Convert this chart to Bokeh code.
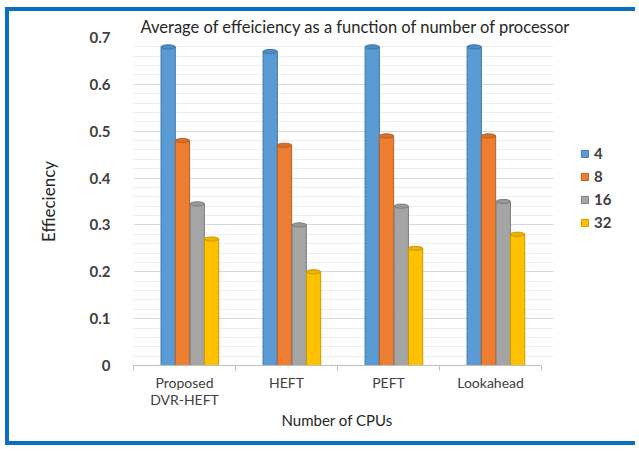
from bokeh.plotting import figure
from bokeh.models import ColumnDataSource, FixedTicker, Legend, LegendItem, Range1d, Title
from bokeh.embed import file_html
from bokeh.resources import INLINE

# ---- data ----
algorithms = ["Proposed\nDVR-HEFT", "HEFT", "PEFT", "Lookahead"]
series_names = ["4", "8", "16", "32"]
eff_4 = [0.68, 0.67, 0.68, 0.68]
eff_8 = [0.48, 0.47, 0.49, 0.49]
eff_16 = [0.345, 0.30, 0.34, 0.35]
eff_32 = [0.27, 0.20, 0.25, 0.28]
y_ticks = [0, 0.1, 0.2, 0.3, 0.4, 0.5, 0.6, 0.7]
y_tick_labels = ["0", "0.1", "0.2", "0.3", "0.4", "0.5", "0.6", "0.7"]

# ---- style ----
colors = ["#5B9BD5", "#ED7D31", "#A5A5A5", "#FFC000"]
edges = ["#3F77AA", "#B85F22", "#7E7E7E", "#C99A00"]
caps = ["#4F8CC4", "#DA6F27", "#989898", "#EDB200"]
offsets = [-0.16, -0.02, 0.125, 0.265]
bar_w = 0.14
FONT = "Lato"
N = len(algorithms)
X_END = 4.96      # frame runs to the right edge; legend lives inside it
GRID_END = 4.12

centers = [i + 0.5 for i in range(N)]
values = [eff_4, eff_8, eff_16, eff_32]

p = figure(width=630, height=438, x_range=Range1d(0, X_END),
           y_range=Range1d(0, 0.7), output_backend="svg", toolbar_location=None,
           min_border_left=124, min_border_right=0, min_border_top=26,
           min_border_bottom=84)
p.styles = {"margin-left": "5px", "margin-top": "7px",
            "border-left": "4px solid #0A6FC4", "border-top": "4px solid #0A6FC4",
            "border-bottom": "4px solid #0A6FC4", "border-right": "0px none"}
p.outline_line_color = None
p.background_fill_color = "white"
p.border_fill_color = "white"

# grid
minor = [round(i * 0.02, 3) for i in range(36) if i % 5 != 0]
p.yaxis.ticker = FixedTicker(ticks=y_ticks, minor_ticks=minor)
p.ygrid.grid_line_color = "#D9D9D9"
p.ygrid.minor_grid_line_color = "#EEEEEE"
p.ygrid.cross_bounds = (0, GRID_END)
p.xgrid.grid_line_color = None

items = []
for k, name in enumerate(series_names):
    xs = [c + offsets[k] for c in centers]
    src = ColumnDataSource(dict(x=xs, top=values[k]))
    r = p.vbar(x="x", top="top", bottom=0, width=bar_w, source=src,
               fill_color=colors[k], line_color=edges[k], line_width=1)
    p.ellipse(x="x", y="top", width=bar_w, height=0.009, source=src,
              fill_color=caps[k], line_color=edges[k], line_width=1)
    items.append(LegendItem(label=name, renderers=[r]))

# x axis
p.xaxis.bounds = (0, N)
p.xaxis.ticker = FixedTicker(ticks=centers, minor_ticks=list(range(N + 1)))
p.xaxis.major_label_overrides = {c: lab for c, lab in zip(centers, algorithms)}
p.xaxis.major_tick_line_color = None
p.xaxis.minor_tick_out = 5
p.xaxis.minor_tick_in = 0
p.xaxis.minor_tick_line_color = "#BFBFBF"
p.xaxis.axis_line_color = "#BFBFBF"
p.xaxis.major_label_text_font = FONT
p.xaxis.major_label_text_font_size = "14px"
p.xaxis.major_label_text_color = "#404040"
p.xaxis.major_label_text_line_height = 1.0
p.xaxis.major_label_standoff = 2

xlabel = Title(text="Number of CPUs", align="left", offset=148,
               vertical_align="top",
               text_font=FONT, text_font_style="normal", text_font_size="15px",
               text_color="#262626", standoff=0)
p.add_layout(xlabel, "below")

# y axis
p.yaxis.major_label_overrides = {t: s for t, s in zip(y_ticks, y_tick_labels)}
p.yaxis.axis_line_color = None
p.yaxis.major_tick_line_color = None
p.yaxis.minor_tick_line_color = None
p.yaxis.major_label_text_font = FONT
p.yaxis.major_label_text_font_style = "bold"
p.yaxis.major_label_text_font_size = "15px"
p.yaxis.major_label_text_color = "#404040"
p.yaxis.major_label_standoff = 17
p.yaxis.axis_label = "Effieciency"
p.yaxis.axis_label_text_font = FONT
p.yaxis.axis_label_text_font_style = "normal"
p.yaxis.axis_label_text_font_size = "17px"
p.yaxis.axis_label_text_color = "#262626"
p.yaxis.axis_label_standoff = 28

# title
p.title.text = "Average of effeiciency as a function of number of processor"
p.title.align = "left"
p.title.offset = 7
p.title.text_font = FONT
p.title.text_font_style = "normal"
p.title.text_font_size = "16.5px"
p.title.text_color = "#262626"
p.title.standoff = 2

legend = Legend(items=items, location=(447, 133))
legend.glyph_width = 9
legend.glyph_height = 9
legend.label_height = 20
legend.spacing = 3
legend.padding = 0
legend.margin = 0
legend.label_standoff = 5
legend.label_text_font = FONT
legend.label_text_font_style = "bold"
legend.label_text_font_size = "15px"
legend.label_text_color = "#404040"
legend.background_fill_alpha = 0
legend.border_line_color = None
p.add_layout(legend, "center")

open("out.html", "w").write(file_html(p, INLINE))
